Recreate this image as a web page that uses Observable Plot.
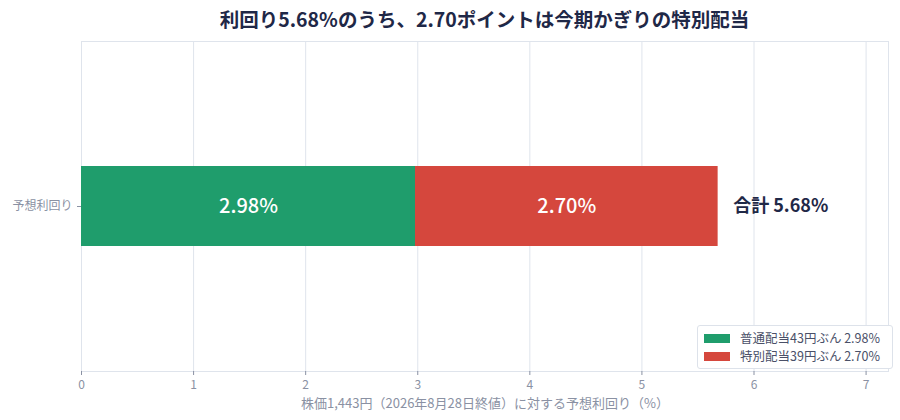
<!DOCTYPE html>
<html><head><meta charset="utf-8">
<script src="https://cdn.jsdelivr.net/npm/d3@7"></script>
<script src="https://cdn.jsdelivr.net/npm/@observablehq/plot@0.6"></script>
<style>
body{margin:0;background:#fff;font-family:"Noto Sans CJK JP","Noto Sans",sans-serif;}
#wrap{position:relative;width:900px;height:420px;}
#title{height:40px;line-height:38px;text-align:center;font-size:19.5px;font-weight:700;color:#1f2847;padding-left:81px;padding-right:12px;box-sizing:border-box;}
#legend{position:absolute;left:697px;top:325px;width:182px;padding:3px 6px 3px 6px;border:1px solid #dde2ea;border-radius:3px;background:#fff;font-size:12.5px;color:#4a5068;line-height:18px;}
#legend .sw{display:inline-block;width:26px;height:9px;margin-right:10px;vertical-align:middle;position:relative;top:-1px;}
</style></head>
<body><div id="wrap"><div id="title">利回り5.68%のうち、2.70ポイントは今期かぎりの特別配当</div><div id="chart"></div><div id="legend"></div></div>
<script>
const category = ["予想利回り"];
const seriesNames = ["普通配当43円ぶん", "特別配当39円ぶん"];
const seriesValues = [2.98, 2.70];
const seriesColors = ["#1f9d6c", "#d5473d"];
const totalValue = 5.68;
const xTicks = [0, 1, 2, 3, 4, 5, 6, 7];
const xLabel = "株価1,443円（2026年8月28日終値）に対する予想利回り（%）";

const rows = seriesNames.map((s, i) => ({cat: category[0], series: s, value: seriesValues[i], idx: i}));
let acc = 0;
rows.forEach(r => { r.x1 = acc; r.x2 = acc + r.value; acc += r.value; r.mid = (r.x1 + r.x2) / 2; });

const chart = Plot.plot({
  width: 900, height: 380,
  marginLeft: 81, marginRight: 12, marginTop: 1, marginBottom: 49,
  style: {fontFamily: '"Noto Sans CJK JP","Noto Sans",sans-serif', fontSize: "12px", color: "#8a91a3", background: "#fff"},
  x: {domain: [0, 7.2], ticks: xTicks, tickFormat: d => String(d), label: null, tickSize: 4},
  y: {domain: category, label: null, padding: 0.61, tickSize: 4},
  color: {domain: seriesNames, range: seriesColors},
  marks: [
    Plot.gridX(xTicks, {stroke: "#dfe4ec", strokeOpacity: 1}),
    Plot.frame({stroke: "#dfe4ec"}),
    Plot.barX(rows, {x1: "x1", x2: "x2", y: "cat", fill: "series"}),
    Plot.text(rows, {x: "mid", y: "cat", text: d => d.value.toFixed(2) + "%", fill: "white", fontSize: 20, fontWeight: 500}),
    Plot.text([totalValue], {x: d => d, y: () => category[0], text: d => "合計 " + d.toFixed(2) + "%", textAnchor: "start", dx: 15, fill: "#1f2847", fontSize: 18, fontWeight: 700}),
    Plot.axisX({ticks: xTicks, tickFormat: d => String(d), stroke: "#8a91a3", fill: "#8a91a3", label: null, tickSize: 4}),
    Plot.text([xLabel], {frameAnchor: "bottom", dy: 36, text: d => d, fill: "#8a91a3", fontSize: 13}),
    Plot.axisY({tickSize: 4, label: null, fill: "#8a91a3", fontSize: 12})
  ]
});
document.getElementById("chart").appendChild(chart);

const lg = document.getElementById("legend");
seriesNames.forEach((s, i) => {
  const d = document.createElement("div");
  d.innerHTML = `<span class="sw" style="background:${seriesColors[i]}"></span>${s} ${seriesValues[i].toFixed(2)}%`;
  lg.appendChild(d);
});
</script></body></html>
